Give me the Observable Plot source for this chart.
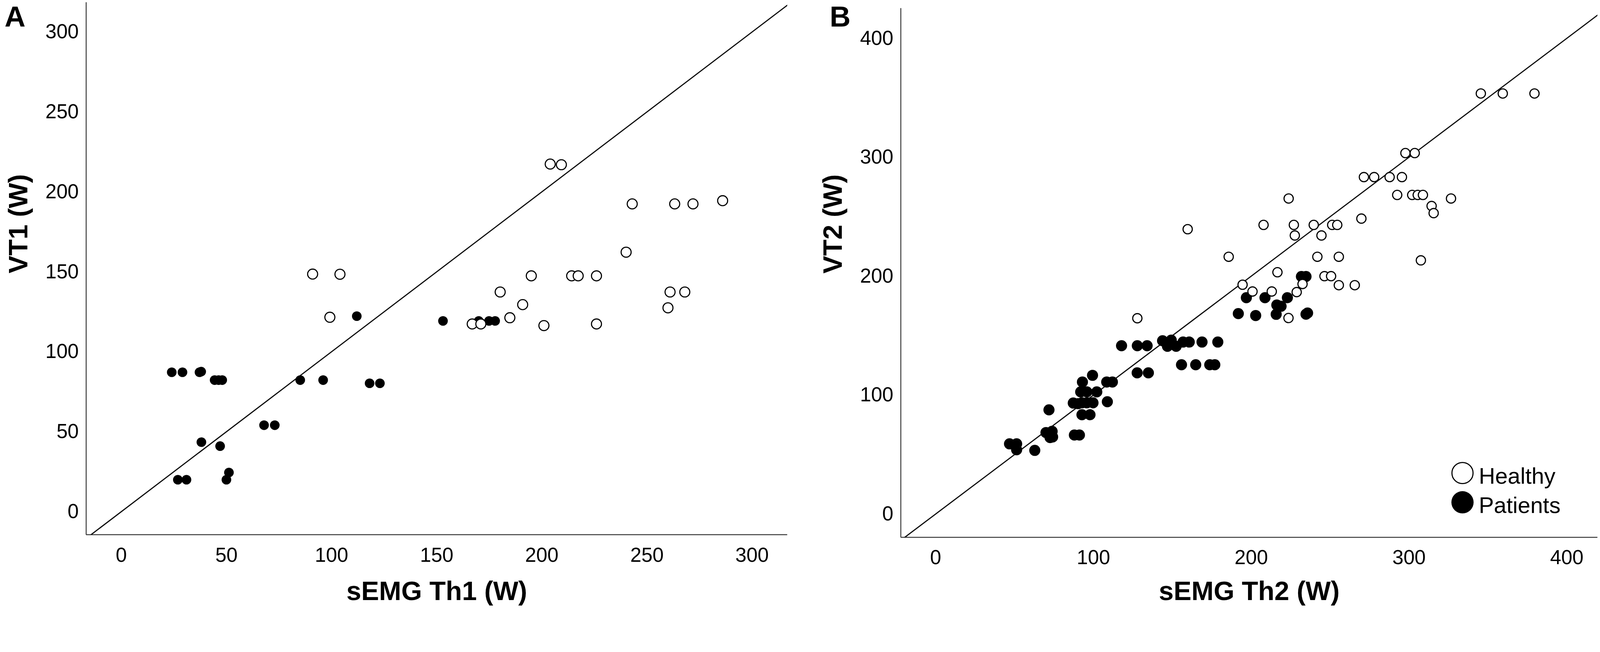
<!DOCTYPE html>
<html>
<head>
<meta charset="utf-8">
<script src="https://cdn.jsdelivr.net/npm/d3@7"></script>
<script src="https://cdn.jsdelivr.net/npm/@observablehq/plot@0.6"></script>
<style>
  html, body { margin: 0; padding: 0; background: #fff; overflow: hidden; }
  #wrap { position: absolute; left: 0; top: 0; width: 4317px; height: 1670px; background: #fff; overflow: hidden;
          transform-origin: 0 0; font-family: "Liberation Sans", Arial, sans-serif; }
  #pa { position: absolute; left: 0; top: 0; width: 2158px; height: 1670px; }
  #pb { position: absolute; left: 2158px; top: 0; width: 2159px; height: 1670px; }
  .lg-dot { position: absolute; width: 60px; height: 60px; border-radius: 50%; box-sizing: border-box; }
  .lg-txt { position: absolute; font-size: 61px; line-height: 61px; color: #000; white-space: nowrap; }
</style>
</head>
<body>
<div id="wrap">
  <div id="pa"></div>
  <div id="pb"></div>
  <div id="legend"></div>
</div>
<script>
// ---------- Panel A data: sEMG Th1 (W) vs VT1 (W) ----------
const healthyA = [
  [204, 217.4], [209.3, 217], [91, 148.6], [104, 148.5], [99.2, 121.6],
  [166.9, 117.4], [171, 117.4], [180.2, 137.4], [184.8, 121.3], [190.9, 129.5],
  [195, 147.5], [201, 116.4], [214.2, 147.5], [217.3, 147.5], [226, 147.5],
  [226, 117.4], [240.1, 162.3], [243, 192.5], [260, 127.5], [261, 137.4],
  [263.2, 192.5], [268, 137.4], [271.9, 192.5], [286, 194.5]
];
const patientsA = [
  [24, 87.2], [29.1, 87.2], [37.2, 87.2], [38, 87.6], [44.4, 82.3], [46.3, 82.3], [48, 82.3],
  [38.1, 43.5], [47, 41], [26.9, 20], [31, 20], [50, 20], [51.2, 24.5],
  [67.9, 54.1], [73, 54.1], [85.1, 82.3], [96, 82.3], [112, 122.3],
  [118.1, 80.3], [123, 80.3], [153, 119.3], [170, 119.3], [174.9, 119.3], [177.8, 119.3]
];
const ticksAX = [0, 50, 100, 150, 200, 250, 300];
const ticksAY = [0, 50, 100, 150, 200, 250, 300];
const domainAX = [-16.7, 316.8];
const domainAY = [-14.4, 318.5];

// ---------- Panel B data: sEMG Th2 (W) vs VT2 (W) ----------
const healthyB = [
  [345.5, 353.6], [359.4, 353.6], [379.5, 353.6], [297.7, 303.5], [303.6, 303.5],
  [271.4, 283.3], [277.9, 283.3], [287.7, 283.3], [295.5, 283.3], [292.5, 268.3],
  [302, 268.3], [305.5, 268.3], [308.8, 268.3], [326.6, 265.3], [314.3, 259],
  [315.6, 253], [307.5, 213.3], [269.8, 248.4], [223.7, 265.3], [207.8, 243.1],
  [227, 243.1], [239.6, 243.1], [251.3, 243.1], [254.5, 243.1], [227.6, 234.2],
  [244.5, 234.2], [159.7, 239.5], [185.7, 216.3], [241.9, 216.3], [255.5, 216.3],
  [216.6, 203.3], [246.4, 200], [250.6, 200], [194.5, 192.8], [200.8, 187.1],
  [213.0, 187.1], [228.8, 186.6], [232.5, 193.4], [255.5, 192.4], [265.6, 192.4],
  [223.6, 164.8], [127.8, 164.6]
];
const patientsB = [
  [46.8, 59], [51.3, 59], [51.3, 54], [62.8, 53.5], [69.9, 68.5], [73.8, 69.5],
  [72.5, 64.3], [74.1, 64.8], [71.8, 87.6], [87.9, 66.4], [91.1, 66.4],
  [87.2, 93.3], [90.3, 92.8], [92.7, 93.5], [95.8, 93.5], [99.7, 93.5], [108.8, 94.4],
  [92.7, 83.5], [97.8, 83.5], [91.9, 102.7], [95.8, 102.7], [102.1, 102.7],
  [93.0, 111.0], [99.4, 116.6], [108.4, 111.0], [112.0, 111.0],
  [117.8, 141.5], [127.8, 141.5], [134.0, 141.5], [127.7, 118.7], [134.8, 118.7],
  [143.8, 145.7], [149.3, 146.2], [146.9, 141.0], [152.4, 141.0], [156.8, 144.6],
  [160.7, 144.6], [168.8, 144.6], [178.8, 144.6], [155.8, 125.5], [164.8, 125.5],
  [173.7, 125.5], [176.9, 125.5], [191.8, 168.5], [196.9, 181.9], [202.8, 166.9],
  [208.7, 181.9], [215.8, 167.9], [216.2, 175.7], [218.9, 174.7], [222.9, 181.9],
  [231.8, 199.7], [234.7, 199.7], [234.7, 168], [235.7, 169]
];
const ticksBX = [0, 100, 200, 300, 400];
const ticksBY = [0, 100, 200, 300, 400];
const domainBX = [-22.1, 419.5];
const domainBY = [-19.6, 425.2];

const legendLabels = ["Healthy", "Patients"];

function panel(o) {
  const diag = [Math.min(o.dx[0], o.dy[0]), Math.max(o.dx[1], o.dy[1])];
  return Plot.plot({
    width: o.width, height: 1670,
    marginLeft: o.ml, marginRight: o.mr, marginTop: o.mt, marginBottom: o.mb,
    style: { fontFamily: "'Liberation Sans', Arial, sans-serif", fontSize: "54px", color: "#000", background: "transparent", overflow: "visible" },
    x: { domain: o.dx, ticks: o.tx, tickSize: 0, tickPadding: o.xpad, label: null, tickFormat: d => String(d) },
    y: { domain: o.dy, ticks: o.ty, tickSize: 0, tickPadding: 20, label: null, tickFormat: d => String(d) },
    marks: [
      Plot.ruleX([o.dx[0]], { stroke: "#3a3a3a", strokeWidth: 2.6 }),
      Plot.ruleY([o.dy[0]], { stroke: "#3a3a3a", strokeWidth: 2.6 }),
      Plot.line(diag, { x: d => d, y: d => d, stroke: "#000", strokeWidth: 3, clip: true }),
      Plot.dot(o.patients, { x: d => d[0], y: d => d[1], r: o.rp, fill: "#000", stroke: "none" }),
      Plot.dot(o.healthy, { x: d => d[0], y: d => d[1], r: o.rh, fill: "#fff", stroke: "#000", strokeWidth: 3 }),
      Plot.text([o.xlabel], { frameAnchor: "bottom", dy: o.xtdy, fontSize: 72, fontWeight: "bold", fill: "#000" }),
      Plot.text([o.ylabel], { frameAnchor: "left", dx: -182, dy: o.ytdy, rotate: -90, fontSize: 72, fontWeight: "bold", fill: "#000" }),
      Plot.text([o.tag], { frameAnchor: "top-left", dx: o.tagdx, dy: o.tagdy, textAnchor: "start", lineAnchor: "top", fontSize: 78, fontWeight: "bold", fill: "#000" })
    ]
  });
}

document.getElementById("pa").appendChild(panel({
  width: 2158, ml: 232, mr: 2158 - 2124, mt: 6, mb: 1670 - 1443,
  dx: domainAX, dy: domainAY, tx: ticksAX, ty: ticksAY, xpad: 35,
  healthy: healthyA, patients: patientsA, rp: 13, rh: 13.5,
  xlabel: "sEMG Th1 (W)", ylabel: "VT1 (W)", xtdy: 176, ytdy: 13,
  tag: "A", tagdx: 12 - 232, tagdy: 10
}));

document.getElementById("pb").appendChild(panel({
  width: 2159, ml: 2430 - 2158, mr: 4317 - 4310, mt: 22, mb: 1670 - 1450,
  dx: domainBX, dy: domainBY, tx: ticksBX, ty: ticksBY, xpad: 34,
  healthy: healthyB, patients: patientsB, rp: 15, rh: 12.5,
  xlabel: "sEMG Th2 (W)", ylabel: "VT2 (W)", xtdy: 169, ytdy: 2,
  tag: "B", tagdx: 2238 - 2430, tagdy: -6
}));

// legend (HTML, real text)
const lg = document.getElementById("legend");
const items = [
  { label: legendLabels[0], cx: 3946, cy: 1277, style: "border:3px solid #000;background:#fff;" },
  { label: legendLabels[1], cx: 3946, cy: 1356, style: "background:#000;" }
];
items.forEach(it => {
  const d = document.createElement("div");
  d.className = "lg-dot";
  d.style.cssText = it.style + `left:${it.cx - 30}px;top:${it.cy - 30}px;`;
  lg.appendChild(d);
  const t = document.createElement("div");
  t.className = "lg-txt";
  t.textContent = it.label;
  t.style.left = "3990px";
  t.style.top = (it.cy + 30 - 52) + "px";
  lg.appendChild(t);
});

// fit the fixed 4317x1670 layout into the actual viewport
function fit() {
  const s = Math.min(window.innerWidth / 4317, window.innerHeight / 1670);
  document.getElementById("wrap").style.transform = s < 0.999 ? `scale(${s})` : "none";
}
fit();
window.addEventListener("resize", fit);
</script>
</body>
</html>
